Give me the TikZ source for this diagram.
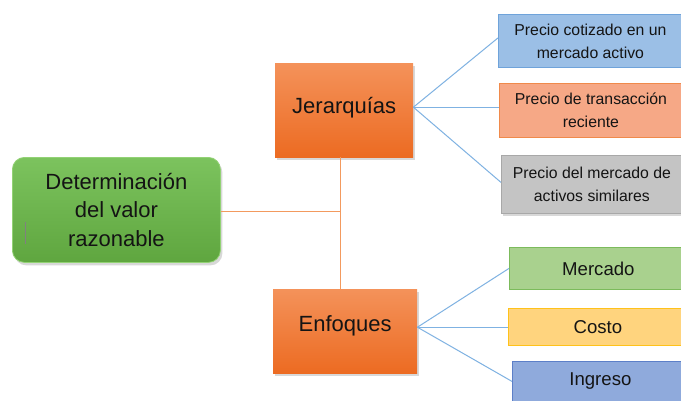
\documentclass[tikz,border=0pt]{standalone}
\usepackage{fontspec}
\setmainfont{Liberation Sans}
\usetikzlibrary{shadows,calc}
\definecolor{grtop}{HTML}{7CC35E}
\definecolor{grbot}{HTML}{5FA63F}
\definecolor{grline}{HTML}{93D275}
\definecolor{ortop}{HTML}{F4925A}
\definecolor{orbot}{HTML}{EC6B22}
\definecolor{orconn}{HTML}{F39A5E}
\definecolor{blconn}{HTML}{7FB2E2}
\definecolor{bluefill}{HTML}{9BBFE6}
\definecolor{blueline}{HTML}{6FA3DA}
\definecolor{salfill}{HTML}{F6A886}
\definecolor{salline}{HTML}{F08A4B}
\definecolor{greyfill}{HTML}{C4C4C4}
\definecolor{greyline}{HTML}{A8A8A8}
\definecolor{mefill}{HTML}{A9D18E}
\definecolor{meline}{HTML}{7CBB5C}
\definecolor{cofill}{HTML}{FFD47E}
\definecolor{coline}{HTML}{FFC21A}
\definecolor{infill}{HTML}{8FAADC}
\definecolor{inborder}{HTML}{5C7FC8}
\definecolor{txt}{HTML}{141414}
\begin{document}
\begin{tikzpicture}[x=1pt,y=-1pt,
  shadowed/.style={drop shadow={opacity=0.3,shadow xshift=2pt,shadow yshift=-3pt}},
  mainbox/.style={shadowed,anchor=north west,inner sep=0pt,align=center,text=txt,
     font=\fontsize{22}{28.5}\selectfont},
  orbox/.style={mainbox,top color=ortop,bottom color=orbot,draw=none,text height=16pt},
  leaf/.style={anchor=north west,inner sep=0pt,align=center,text=txt,line width=0.8pt,
     font=\fontsize{15.8}{23}\selectfont},
  leafbig/.style={leaf,font=\fontsize{18.6}{23}\selectfont},
  blink/.style={color=blconn,line width=1pt},
  olink/.style={color=orconn,line width=1pt}]
\fill[white] (0,0) rectangle (681,400);
\useasboundingbox (0,0) rectangle (681,400);

\node[mainbox,rounded corners=12pt,top color=grtop,bottom color=grbot,draw=grline,line width=0.8pt,
  minimum width=208pt,minimum height=105pt] (det) at (12,157)
  {Determinación\\del valor\\razonable};
\draw[gray,line width=0.8pt] (25,222) -- (25,244);

\node[orbox,text depth=10pt,minimum width=138pt,minimum height=94pt] (jer) at (275,63) {Jerarquías};
\node[orbox,text depth=15pt,minimum width=144pt,minimum height=84pt] (enf) at (273,289) {Enfoques};

\node[leaf,fill=bluefill,draw=blueline,minimum width=184pt,minimum height=53pt] (p1) at (498,14)
  {Precio cotizado en un\\mercado activo};
\node[leaf,fill=salfill,draw=salline,minimum width=183pt,minimum height=54pt] (p2) at (499,83)
  {Precio de transacción\\reciente};
\node[leaf,shadowed,fill=greyfill,draw=greyline,minimum width=181pt,minimum height=58pt] (p3) at (501,155)
  {Precio del mercado de\\activos similares};

\node[leafbig,fill=mefill,draw=meline,minimum width=178pt,minimum height=42pt] (me) at (509,247) {Mercado};
\node[leafbig,fill=cofill,draw=coline,minimum width=179pt,minimum height=37pt] (co) at (508,308) {Costo};
\node[leafbig,fill=infill,draw=inborder,minimum width=176pt,minimum height=40pt] (in) at (512,361) {Ingreso};

\coordinate (hub) at (340,211);
\draw[olink] (det.east |- hub) -- (hub);
\draw[olink] (jer.south -| hub) -- (enf.north -| hub);

\coordinate (jfan) at ($(jer.east)+(0,-3)$);
\coordinate (efan) at ($(enf.east)+(0,-4)$);
\draw[blink] (jfan) -- ($(p1.west)+(0,-3)$);
\draw[blink] (jfan) -- (jfan -| p2.west);
\draw[blink] (jfan) -- ($(p3.west)+(0,-2)$);
\draw[blink] (efan) -- (me.west);
\draw[blink] (efan) -- (efan -| co.west);
\draw[blink] (efan) -- (in.west);
\end{tikzpicture}
\end{document}
